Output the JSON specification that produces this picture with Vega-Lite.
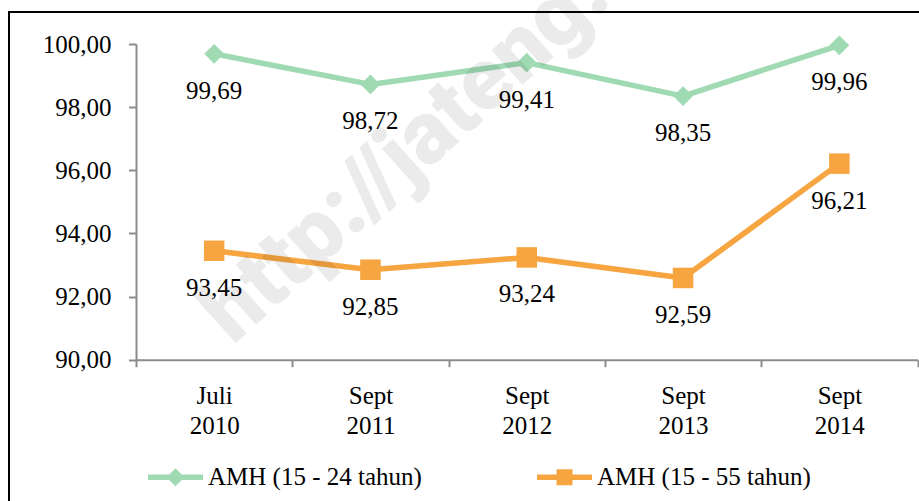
{
  "$schema": "https://vega.github.io/schema/vega-lite/v6.json",
  "width": 915,
  "height": 495,
  "autosize": {"type": "none"},
  "padding": {"left": 9, "top": 12, "right": 0, "bottom": 0},
  "background": "white",
  "config": {
    "locale": {"number": {"decimal": ",", "thousands": ".", "grouping": [3], "currency": ["", ""]}},
    "view": {"stroke": "#000000", "strokeWidth": 2},
    "font": "Liberation Serif",
    "axis": {"grid": false, "title": null, "labelFont": "Liberation Serif", "labelFontSize": 25, "labelColor": "#000000", "domainColor": "#8c8c8c", "domainWidth": 2, "tickColor": "#8c8c8c", "tickWidth": 2}
  },
  "data": {
    "values": [
      {"period": "Juli 2010", "series": "AMH (15 - 24 tahun)", "value": 99.69},
      {"period": "Sept 2011", "series": "AMH (15 - 24 tahun)", "value": 98.72},
      {"period": "Sept 2012", "series": "AMH (15 - 24 tahun)", "value": 99.41},
      {"period": "Sept 2013", "series": "AMH (15 - 24 tahun)", "value": 98.35},
      {"period": "Sept 2014", "series": "AMH (15 - 24 tahun)", "value": 99.96},
      {"period": "Juli 2010", "series": "AMH (15 - 55 tahun)", "value": 93.45},
      {"period": "Sept 2011", "series": "AMH (15 - 55 tahun)", "value": 92.85},
      {"period": "Sept 2012", "series": "AMH (15 - 55 tahun)", "value": 93.24},
      {"period": "Sept 2013", "series": "AMH (15 - 55 tahun)", "value": 92.59},
      {"period": "Sept 2014", "series": "AMH (15 - 55 tahun)", "value": 96.21}
    ]
  },
  "layer": [
    {
      "mark": {"type": "line", "strokeWidth": 5.5, "strokeCap": "round", "strokeJoin": "round"},
      "encoding": {
        "x": {"field": "period", "type": "nominal", "sort": null, "bandPosition": 0.5,
          "scale": {"type": "band", "range": [127, 908.5], "paddingInner": 0, "paddingOuter": 0},
          "axis": {"labelExpr": "split(datum.label, ' ')", "labelAngle": 0, "labelLineHeight": 30, "labelBaseline": "top", "labelPadding": 17, "tickBand": "extent", "tickSize": 7, "offset": -147.3}},
        "y": {"field": "value", "type": "quantitative",
          "scale": {"domain": [90, 100], "range": [347.7, 32], "nice": false, "zero": false},
          "axis": {"values": [90, 92, 94, 96, 98, 100], "format": ".2f", "offset": -127, "labelPadding": 17.5, "tickSize": 7.5}},
        "color": {"field": "series", "type": "nominal", "sort": null,
          "scale": {"domain": ["AMH (15 - 24 tahun)", "AMH (15 - 55 tahun)"], "range": ["#9FDAB3", "#F6A540"]},
          "legend": {"title": null, "orient": "none", "legendX": 139, "legendY": 437.5, "direction": "horizontal", "symbolSize": 3025, "labelFont": "Liberation Serif", "labelFontSize": 25, "labelColor": "#000000", "labelOffset": 5, "columnPadding": 115, "padding": 0, "labelLimit": 400,
            "encode": {"symbols": {"update": {
              "shape": {"signal": "datum.value === 'AMH (15 - 24 tahun)' ? 'M-1,-0.1H1V0.1H-1Z M0,-0.33L0.33,0L0,0.33L-0.33,0Z' : 'M-1,-0.1H1V0.1H-1Z M-0.29,-0.29H0.29V0.29H-0.29Z'"},
              "fill": {"signal": "datum.value === 'AMH (15 - 24 tahun)' ? '#9FDAB3' : '#F6A540'"},
              "fillOpacity": {"value": 1},
              "opacity": {"value": 1},
              "strokeWidth": {"value": 0}
            }}}}
        }
      }
    },
    {
      "transform": [{"filter": "datum.series === 'AMH (15 - 24 tahun)'"}],
      "mark": {"type": "point", "filled": true, "opacity": 1, "size": 390, "shape": "diamond"},
      "encoding": {
        "x": {"field": "period", "type": "nominal", "sort": null, "bandPosition": 0.5},
        "y": {"field": "value", "type": "quantitative"},
        "color": {"field": "series", "type": "nominal", "sort": null}
      }
    },
    {
      "transform": [{"filter": "datum.series === 'AMH (15 - 55 tahun)'"}],
      "mark": {"type": "point", "filled": true, "opacity": 1, "size": 420, "shape": "square"},
      "encoding": {
        "x": {"field": "period", "type": "nominal", "sort": null, "bandPosition": 0.5},
        "y": {"field": "value", "type": "quantitative"},
        "color": {"field": "series", "type": "nominal", "sort": null}
      }
    },
    {
      "mark": {"type": "text", "dy": 37, "fontSize": 25, "font": "Liberation Serif", "color": "#000000"},
      "encoding": {
        "x": {"field": "period", "type": "nominal", "sort": null, "bandPosition": 0.5},
        "y": {"field": "value", "type": "quantitative"},
        "text": {"field": "value", "type": "quantitative", "format": ".2f"}
      }
    },
    {
      "data": {"values": [{"label": "http://jateng.bps.go.id"}]},
      "mark": {"type": "text", "angle": 318, "align": "left", "baseline": "alphabetic", "font": "Roboto", "fontWeight": 900, "fontSize": 88, "fill": "#000000", "opacity": 0.075},
      "encoding": {
        "x": {"datum": "Juli 2010", "bandPosition": 0.62},
        "y": {"datum": 90.45},
        "text": {"field": "label", "type": "nominal"}
      }
    }
  ]
}
